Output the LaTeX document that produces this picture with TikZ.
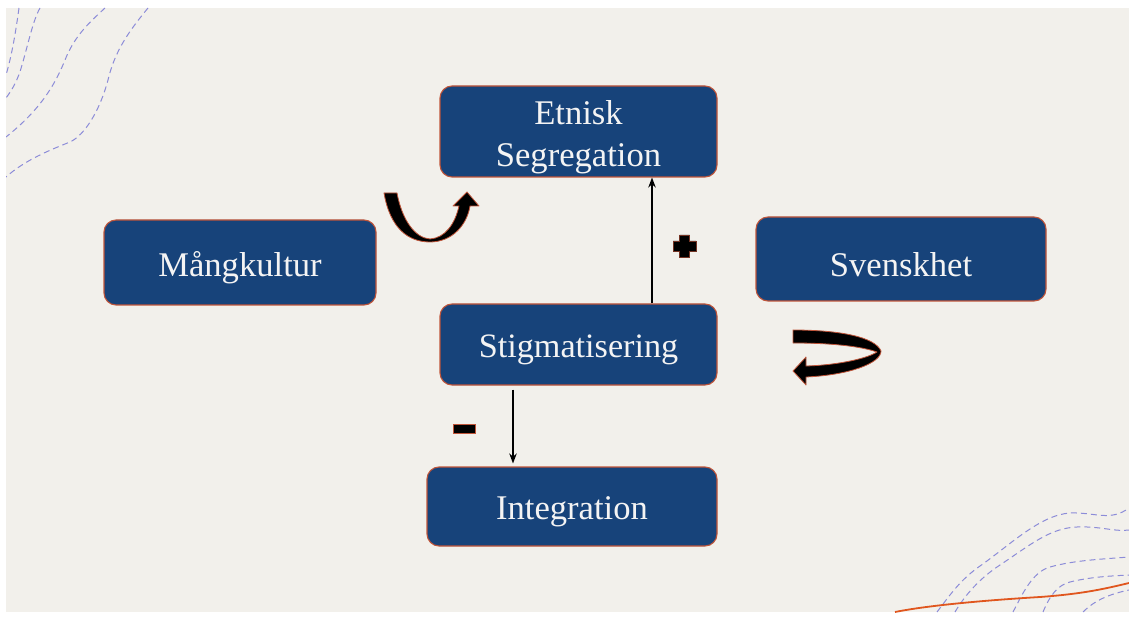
\documentclass[tikz,border=0pt]{standalone}
\usepackage{fontspec}
\setmainfont{Liberation Serif}
\usetikzlibrary{arrows.meta,calc}
\definecolor{bgc}{HTML}{F2F0EB}
\definecolor{boxblue}{HTML}{17437A}
\definecolor{boxedge}{HTML}{C0553A}
\definecolor{dashc}{HTML}{8C8CD8}
\definecolor{orng}{HTML}{E0561E}
\definecolor{txtc}{HTML}{F4F4F4}
\newcommand{\dn}[1]{\raisebox{-5.5pt}[\height][\depth]{#1}}
\tikzset{
  box/.style={draw=boxedge, line width=1.1pt, fill=boxblue, rounded corners=12pt,
    text=txtc, align=center, inner sep=0pt,
    font=\fontsize{34.6}{42}\selectfont},
  conn/.style={draw=black, line width=1.3pt, -{Stealth[length=10pt,width=7.5pt]}},
  bgdash/.style={draw=dashc, line width=1pt, dash pattern=on 6pt off 4pt},
  blockarrow/.style={fill=black, draw=boxedge, line width=0.8pt, line join=round},
}
\begin{document}
\begin{tikzpicture}[x=1pt,y=-1pt]
\useasboundingbox (0,0) rectangle (1129,617);
\fill[white] (0,0) rectangle (1129,617);
\fill[bgc] (6,8) rectangle (1129,612);
% background decorations
\begin{scope}
\clip (6,8) rectangle (1129,612);
\draw[bgdash] (19,8) .. controls (16,30) and (12,55) .. (6,75);
\draw[bgdash] (40,8) .. controls (33,20) and (28,45) .. (22,65) .. controls (18,80) and (12,90) .. (6,98);
\draw[bgdash] (105,8) .. controls (90,22) and (75,35) .. (65,60) .. controls (55,85) and (40,110) .. (6,137);
\draw[bgdash] (148,8) .. controls (130,30) and (115,50) .. (108,80) .. controls (100,110) and (85,135) .. (70,142) .. controls (50,150) and (25,160) .. (6,177);
\draw[bgdash] (937,612) .. controls (950,595) and (960,580) .. (980,566) .. controls (1010,545) and (1040,515) .. (1070,513) .. controls (1095,512) and (1110,522) .. (1129,508);
\draw[bgdash] (955,612) .. controls (965,595) and (980,578) .. (1000,565) .. controls (1030,545) and (1050,528) .. (1077,527) .. controls (1100,526) and (1115,532) .. (1129,530);
\draw[bgdash] (1013,612) .. controls (1022,595) and (1032,572) .. (1050,567) .. controls (1075,560) and (1105,559) .. (1129,557);
\draw[bgdash] (1043,612) .. controls (1050,595) and (1058,585) .. (1070,582) .. controls (1090,577) and (1110,576) .. (1129,575);
\draw[bgdash] (1083,612) .. controls (1095,600) and (1110,594) .. (1129,590);
\draw[orng, line width=1.8pt] (895,612) .. controls (930,605) and (990,600) .. (1040,597) .. controls (1080,594) and (1100,590) .. (1129,583);
\end{scope}

% boxes
\node[box, minimum width=277pt, minimum height=91pt] (etn) at (578.5,131.5) {\dn{\begin{tabular}{@{}c@{}}Etnisk\\Segregation\end{tabular}}};
\node[box, minimum width=272pt, minimum height=85pt] (mang) at (240,262.5) {\dn{Mångkultur}};
\node[box, minimum width=290pt, minimum height=84pt] (sven) at (901,259) {\dn{Svenskhet}};
\node[box, minimum width=277pt, minimum height=81pt] (stig) at (578.5,344.5) {\fontsize{34.2}{41}\selectfont\dn{Stigmatisering}};
\node[box, minimum width=290pt, minimum height=79pt] (integ) at (572,506.5) {\dn{Integration}};

% connectors
\coordinate (upx) at (652,0);
\coordinate (downx) at (513,0);
\draw[conn] (stig.north -| upx) -- (etn.south -| upx);
\draw[conn, shorten <=4pt, shorten >=3pt] (stig.south -| downx) -- (integ.north -| downx);

% plus and minus
\fill[black, draw=boxedge!60!black, line width=0.5pt]
  (679.5,235) -- (689.5,235) -- (689.5,241) -- (696,241) -- (696,251) -- (689.5,251)
  -- (689.5,257) -- (679.5,257) -- (679.5,251) -- (673,251) -- (673,241) -- (679.5,241) -- cycle;
\fill[black, draw=boxedge, line width=0.7pt] (453,424) rectangle (475,433);

% U-turn arrow
\draw[blockarrow] (384,193) .. controls (390,228) and (408,242) .. (430,242)
  .. controls (452,242) and (467,225) .. (470,206) -- (479,206) -- (467,192) -- (453,206) -- (459,206)
  .. controls (455,224) and (445,238) .. (430,239)
  .. controls (415,238) and (402,220) .. (397,193) -- cycle;

% circular arrow
\draw[blockarrow] (793,330) .. controls (840,330) and (875,337) .. (881,351)
  .. controls (881,363) and (850,375) .. (806,377) -- (806,385) -- (793,371) -- (806,357) -- (806,366)
  .. controls (840,365) and (868,358) .. (877,352)
  .. controls (860,346) and (830,343) .. (793,343) -- cycle;
\end{tikzpicture}
\end{document}
